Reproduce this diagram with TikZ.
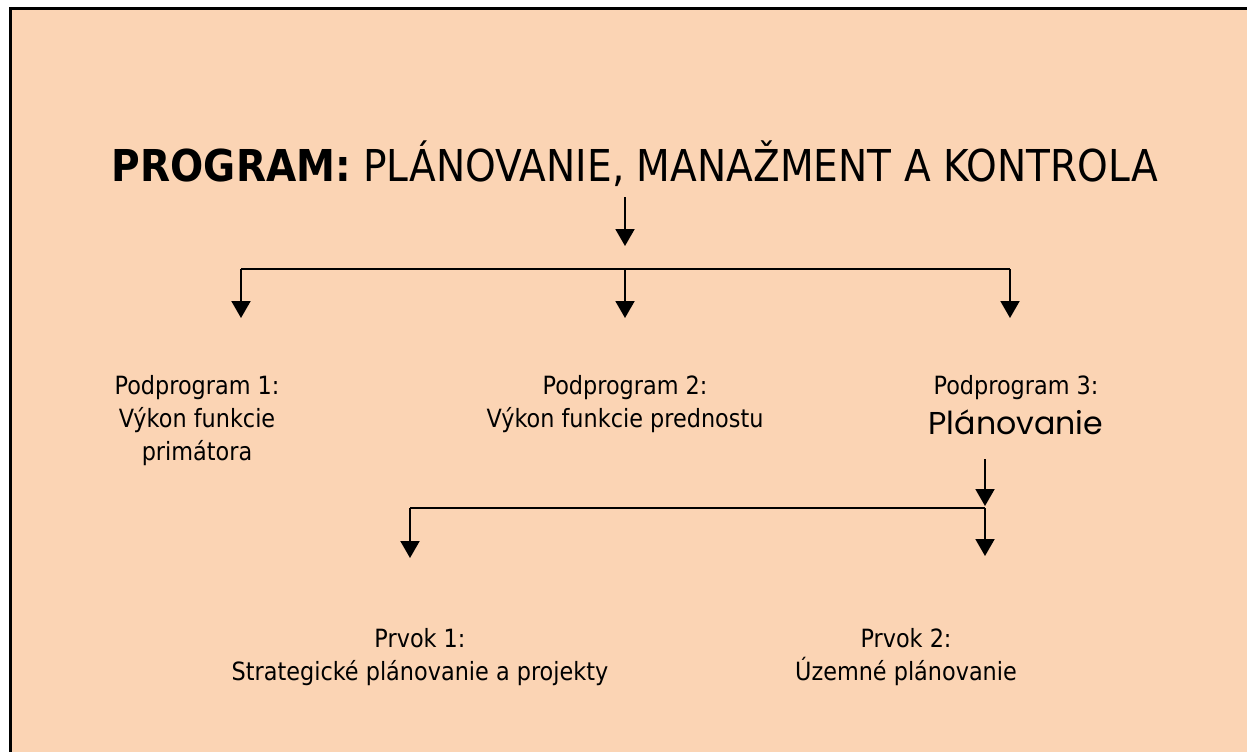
\documentclass[tikz,border=0pt]{standalone}
\usepackage{fontspec}
\setmainfont[FakeStretch=0.89]{DejaVu Sans}
\newfontfamily\gothicfont{Poppins}
\usetikzlibrary{arrows.meta}
\definecolor{peach}{RGB}{251,212,180}

\begin{document}
\begin{tikzpicture}[x=0.02cm, y=-0.02cm]
        \useasboundingbox (0,0) rectangle (1247,752);
        \fill[peach] (9,7) rectangle (1247,752);
        \draw[line width=0.06cm] (9,8.5) -- (1247,8.5);
        \draw[line width=0.06cm] (10.5,7) -- (10.5,752);
        % title
        \node[anchor=base, inner sep=0pt, font=\fontsize{25}{30}\selectfont] (title) at (635,181) {\textbf{PROGRAM:} PLÁNOVANIE, MANAŽMENT A KONTROLA};
        \begin{scope}[every node/.style={anchor=north, align=center, inner sep=0pt, font=\fontsize{14.3}{18.8}\selectfont}]
                \node (P1) at (197,375) {Podprogram 1:\\Výkon funkcie\\primátora};
                \node (P2) at (625,375) {Podprogram 2:\\Výkon funkcie prednostu};
                \node (P3) at (1016,375) {Podprogram 3:\\[4pt]{\gothicfont\fontsize{18}{24}\selectfont Plánovanie}};
                \node (E1) at (420,628) {Prvok 1:\\Strategické plánovanie a projekty};
                \node (E2) at (906,628) {Prvok 2:\\Územné plánovanie};
        \end{scope}
        \coordinate (t0) at (625,197);
        \coordinate (t1) at (625,246);
        \coordinate (hub) at (625,269);
        \coordinate (hubL) at (241,269);
        \coordinate (hubR) at (1010,269);
        \coordinate (a1) at (241,318);
        \coordinate (a2) at (625,318);
        \coordinate (a3) at (1010,318);
        \coordinate (u0) at (985,459);
        \coordinate (u1) at (985,506);
        \coordinate (fork) at (985,508);
        \coordinate (forkL) at (410,508);
        \coordinate (b1) at (410,558);
        \coordinate (b2) at (985,556);
        \begin{scope}[every path/.style={line width=0.04cm, -{Triangle[width=0.38cm,length=0.34cm]}}]
                \path (t0) edge (t1);
                \path (hubL) edge (a1);
                \path (hub) edge (a2);
                \path (hubR) edge (a3);
                \path (u0) edge (u1);
                \path (fork) edge (b2);
                \path (forkL) edge (b1);
        \end{scope}
        \draw[line width=0.04cm] (hubL) -- (hubR);
        \draw[line width=0.04cm] (forkL) -- (fork);
\end{tikzpicture}
\end{document}
